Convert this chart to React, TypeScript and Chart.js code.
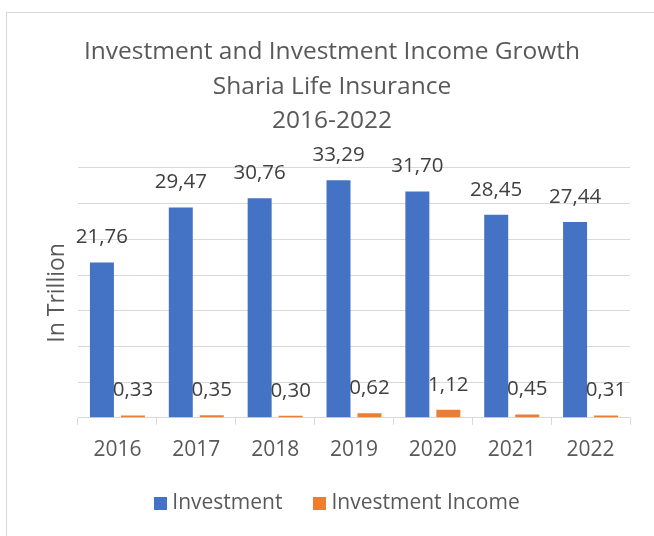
import { useEffect, useRef } from "react";
import { Chart, registerables } from "chart.js";

Chart.register(...registerables);

const categories = ["2016", "2017", "2018", "2019", "2020", "2021", "2022"];
const investment = [21.76, 29.47, 30.76, 33.29, 31.7, 28.45, 27.44];
const investmentIncome = [0.33, 0.35, 0.3, 0.62, 1.12, 0.45, 0.31];
const seriesNames = ["Investment", "Investment Income"];
const seriesColors = ["#4472C4", "#ED7D31"];
const titleLines = ["Investment and Investment Income Growth", "Sharia Life Insurance", "2016-2022"];
const yAxisTitle = "In Trillion";

const FONT = "'Open Sans', sans-serif";
const TEXT = "#595959";
const GRID = "#d9d9d9";

const fmt = (v: number) => v.toFixed(2).replace(".", ",");

const valueLabels = {
  id: "valueLabels",
  afterDatasetsDraw(chart: any) {
    const ctx = chart.ctx;
    ctx.save();
    ctx.font = `20.5px ${FONT}`;
    ctx.fillStyle = "#404040";
    ctx.textAlign = "center";
    ctx.textBaseline = "middle";
    chart.data.datasets.forEach((ds: any, di: number) => {
      const meta = chart.getDatasetMeta(di);
      meta.data.forEach((el: any, i: number) => {
        ctx.fillText(fmt(ds.data[i]), el.x, el.y - 25);
      });
    });
    ctx.restore();
  },
};

const customLegend = {
  id: "customLegend",
  afterDraw(chart: any) {
    const ctx = chart.ctx;
    ctx.save();
    ctx.font = `21px ${FONT}`;
    ctx.textAlign = "left";
    ctx.textBaseline = "middle";
    const box = 13;
    const gap = 5;
    const spacing = 31;
    const items = chart.data.datasets.map((ds: any) => ({ text: ds.label, color: ds.backgroundColor }));
    const widths = items.map((it: any) => box + gap + ctx.measureText(it.text).width);
    const total = widths.reduce((a: number, b: number) => a + b, 0) + spacing * (items.length - 1);
    const cx = chart.width / 2 + 10;
    const cy = chart.height - 33;
    let x = cx - total / 2;
    items.forEach((it: any, i: number) => {
      ctx.fillStyle = it.color;
      ctx.fillRect(Math.round(x), Math.round(cy - box / 2), box, box);
      ctx.fillStyle = TEXT;
      ctx.fillText(it.text, x + box + gap, cy);
      x += widths[i] + spacing;
    });
    ctx.restore();
  },
};

export default function App() {
  const ref = useRef<HTMLCanvasElement | null>(null);

  useEffect(() => {
    if (!ref.current) return;
    const chart = new Chart(ref.current, {
      type: "bar",
      data: {
        labels: categories,
        datasets: [
          {
            label: seriesNames[0],
            data: investment,
            backgroundColor: seriesColors[0],
            borderWidth: 0,
            categoryPercentage: 0.786,
            barPercentage: 0.774,
          },
          {
            label: seriesNames[1],
            data: investmentIncome,
            backgroundColor: seriesColors[1],
            borderWidth: 0,
            categoryPercentage: 0.786,
            barPercentage: 0.774,
          },
        ],
      },
      options: {
        animation: false,
        responsive: false,
        devicePixelRatio: 1,
        layout: { padding: { left: 34, right: 24, top: 0, bottom: 60 } },
        plugins: {
          title: {
            display: true,
            text: titleLines,
            color: TEXT,
            font: { family: FONT, size: 24.5, weight: "normal", lineHeight: 1.408 },
            padding: { top: 35, bottom: 29.5 },
          },
          legend: { display: false },
          tooltip: { enabled: false },
        },
        scales: {
          x: {
            grid: {
              display: true,
              drawOnChartArea: false,
              drawTicks: true,
              tickLength: 7,
              color: GRID,
              lineWidth: 1,
            },
            border: { display: true, color: GRID, width: 1 },
            ticks: {
              color: TEXT,
              font: { family: FONT, size: 21 },
              padding: 13,
            },
          },
          y: {
            min: 0,
            max: 35,
            ticks: { display: false, stepSize: 5 },
            grid: { color: GRID, lineWidth: 1, drawTicks: false },
            border: { display: false },
            title: {
              display: true,
              text: yAxisTitle,
              color: TEXT,
              font: { family: FONT, size: 23, lineHeight: 1.2 },
              padding: { top: 10, bottom: 6.4 },
            },
          },
        },
      },
      plugins: [valueLabels, customLegend],
    });
    return () => chart.destroy();
  }, []);

  return (
    <div
      style={{
        position: "fixed",
        left: 0,
        top: 0,
        width: 654,
        height: 536,
        overflow: "hidden",
        background: "#fff",
      }}
    >
      <div
        style={{
          position: "absolute",
          left: 6,
          top: 12,
          width: 700,
          height: 600,
          border: `1px solid ${GRID}`,
        }}
      />
      <canvas
        ref={ref}
        width={654}
        height={536}
        style={{ position: "absolute", left: 0, top: 0, width: 654, height: 536 }}
      />
    </div>
  );
}
